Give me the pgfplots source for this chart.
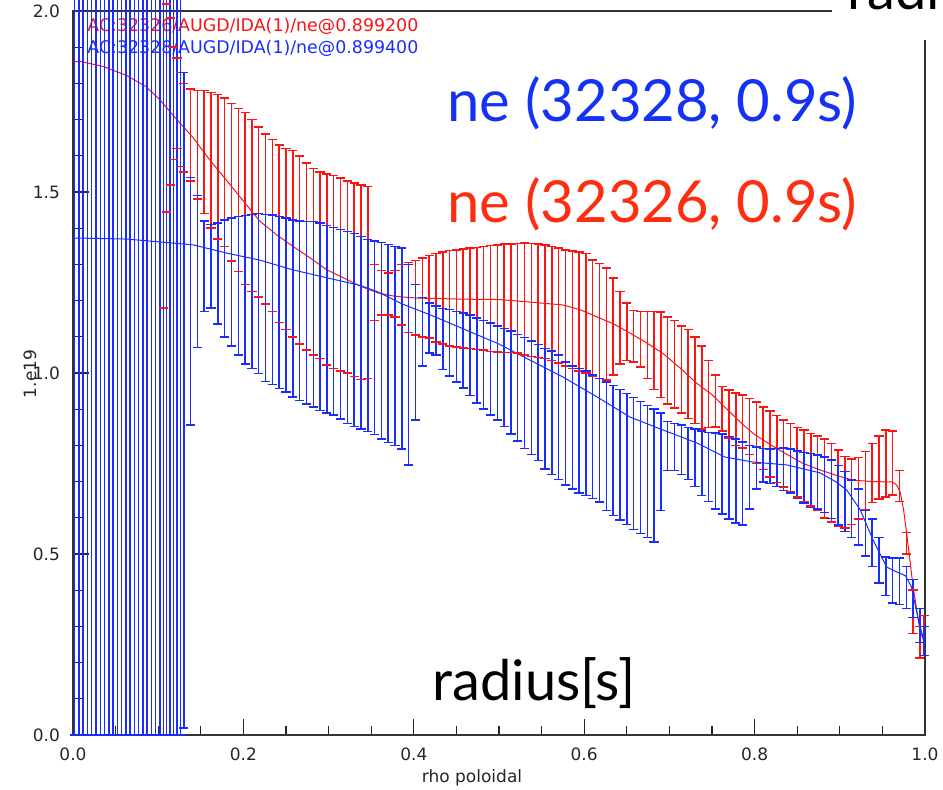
\documentclass[border=0pt]{standalone}
\usepackage{fontspec}
\setmainfont{DejaVu Sans}
\newfontfamily\latofont{Lato}
\usepackage{pgfplots}
\usepackage{pgfplotstable}
\pgfplotsset{compat=1.18}
\definecolor{idlred}{RGB}{250,20,20}
\definecolor{idlblue}{RGB}{25,45,255}
\definecolor{txtblue}{RGB}{20,50,245}
\definecolor{txtred}{RGB}{255,45,15}

\pgfplotstableread{
x rhi rlo bhi blo
0.002 2.5 0 2.5 0
0.007 2.5 0 2.5 0
0.012 2.5 0 2.5 0
0.017 2.5 0 2.5 0
0.022 2.5 0 2.5 0
0.027 2.5 0 2.5 0
0.032 2.5 0 2.5 0
0.037 2.5 0 2.5 0
0.042 2.5 0 2.5 0
0.047 2.5 0 2.5 0
0.052 2.5 0 2.5 0
0.057 2.5 0 2.5 0
0.062 2.5 0 2.5 0
0.067 2.5 0 2.5 0
0.072 2.5 0 2.5 0
0.077 2.5 0 2.5 0
0.082 2.5 0 2.5 0
0.087 2.5 0 2.5 0
0.092 2.5 0 2.5 0
0.097 2.5 0 2.5 0
0.102 2.5 0 2.5 0
0.106 2.5 1.18 2.5 0
0.110 2.02 1.445 2.5 0
0.114 1.98 1.52 2.5 0
0.118 1.90 1.59 2.5 0
0.122 1.87 1.62 2.5 0
0.126 1.83 1.57 2.5 0
0.130 1.80 1.555 1.83 0.02
0.138 1.785 1.53 1.54 0.856
0.146 1.78 1.48 1.49 1.07
0.154 1.78 1.44 1.42 1.17
0.162 1.775 1.40 1.41 1.18
0.170 1.77 1.37 1.415 1.135
0.178 1.76 1.35 1.422 1.10
0.186 1.745 1.31 1.428 1.075
0.194 1.73 1.28 1.432 1.05
0.202 1.72 1.245 1.435 1.025
0.210 1.70 1.225 1.438 1.012
0.218 1.68 1.21 1.44 0.998
0.226 1.66 1.19 1.438 0.977
0.234 1.645 1.17 1.436 0.968
0.242 1.63 1.14 1.432 0.957
0.250 1.62 1.12 1.428 0.947
0.258 1.615 1.10 1.423 0.934
0.266 1.60 1.08 1.42 0.924
0.274 1.58 1.063 1.419 0.915
0.282 1.565 1.05 1.418 0.906
0.290 1.555 1.04 1.415 0.896
0.298 1.55 1.022 1.408 0.89
0.306 1.545 1.012 1.402 0.884
0.314 1.538 1.005 1.397 0.873
0.322 1.53 1.0 1.391 0.86
0.330 1.525 0.99 1.385 0.852
0.338 1.52 0.982 1.377 0.846
0.346 1.515 0.985 1.369 0.839
0.354 1.30 1.145 1.364 0.83
0.362 1.283 1.16 1.36 0.818
0.370 1.276 1.16 1.355 0.808
0.378 1.283 1.155 1.35 0.80
0.386 1.30 1.133 1.345 0.79
0.394 1.305 1.112 1.30 0.746
0.402 1.311 1.105 1.245 0.87
0.410 1.318 1.10 1.208 1.02
0.418 1.325 1.097 1.193 1.055
0.426 1.33 1.085 1.185 1.05
0.434 1.334 1.08 1.178 1.01
0.442 1.338 1.075 1.175 0.992
0.450 1.34 1.072 1.17 0.975
0.458 1.343 1.069 1.166 0.958
0.466 1.345 1.067 1.16 0.938
0.474 1.347 1.065 1.152 0.917
0.482 1.349 1.063 1.145 0.90
0.490 1.352 1.06 1.138 0.884
0.498 1.354 1.058 1.13 0.87
0.506 1.356 1.057 1.123 0.852
0.514 1.357 1.056 1.116 0.832
0.522 1.358 1.055 1.106 0.812
0.530 1.359 1.05 1.098 0.792
0.538 1.358 1.046 1.088 0.775
0.546 1.356 1.043 1.079 0.758
0.554 1.354 1.04 1.068 0.735
0.562 1.35 1.034 1.061 0.719
0.570 1.345 1.027 1.05 0.706
0.578 1.34 1.02 1.03 0.69
0.586 1.337 1.012 1.02 0.68
0.594 1.334 1.006 1.012 0.669
0.602 1.33 1.0 1.005 0.661
0.610 1.312 0.992 0.995 0.653
0.618 1.303 0.985 0.985 0.644
0.626 1.29 0.98 0.975 0.62
0.634 1.262 0.995 0.966 0.607
0.642 1.225 1.025 0.954 0.594
0.650 1.193 1.035 0.944 0.582
0.658 1.172 1.03 0.933 0.568
0.666 1.17 1.017 0.921 0.556
0.674 1.17 0.985 0.91 0.545
0.682 1.17 0.955 0.90 0.533
0.690 1.168 0.932 0.89 0.62
0.698 1.155 0.915 0.866 0.73
0.706 1.145 0.903 0.86 0.73
0.714 1.13 0.89 0.856 0.72
0.722 1.12 0.875 0.85 0.706
0.730 1.10 0.86 0.845 0.686
0.738 1.074 0.845 0.84 0.662
0.746 1.035 0.85 0.836 0.645
0.754 0.995 0.851 0.834 0.625
0.762 0.963 0.84 0.831 0.61
0.770 0.953 0.82 0.824 0.597
0.778 0.945 0.80 0.818 0.585
0.786 0.939 0.793 0.81 0.58
0.794 0.93 0.775 0.80 0.625
0.802 0.92 0.75 0.795 0.68
0.810 0.906 0.733 0.792 0.699
0.818 0.895 0.713 0.79 0.695
0.826 0.883 0.698 0.791 0.686
0.834 0.87 0.685 0.793 0.676
0.842 0.86 0.672 0.79 0.668
0.850 0.85 0.657 0.785 0.654
0.858 0.842 0.644 0.781 0.641
0.866 0.833 0.632 0.777 0.629
0.874 0.826 0.62 0.774 0.624
0.882 0.818 0.60 0.768 0.615
0.890 0.805 0.589 0.76 0.598
0.898 0.787 0.578 0.745 0.58
0.906 0.77 0.572 0.728 0.562
0.914 0.762 0.582 0.705 0.545
0.922 0.766 0.597 0.68 0.525
0.930 0.783 0.623 0.62 0.495
0.938 0.805 0.642 0.597 0.465
0.946 0.826 0.652 0.545 0.42
0.954 0.842 0.658 0.492 0.385
0.962 0.84 0.663 0.489 0.365
0.970 0.73 0.645 0.489 0.361
0.978 0.56 0.50 0.465 0.35
0.986 0.40 0.28 0.43 0.325
0.994 0.30 0.213 0.35 0.255
0.999 0.33 0.22 0.30 0.22
}\bars

\pgfplotstableread{
x y
0 1.86
0.01 1.86
0.035 1.847
0.063 1.822
0.085 1.792
0.102 1.755
0.12 1.705
0.141 1.65
0.16 1.59
0.181 1.53
0.2 1.475
0.219 1.42
0.24 1.38
0.258 1.35
0.28 1.315
0.298 1.285
0.32 1.26
0.337 1.24
0.357 1.222
0.375 1.213
0.387 1.21
0.404 1.207
0.458 1.204
0.5 1.203
0.536 1.196
0.575 1.188
0.595 1.175
0.615 1.155
0.635 1.135
0.654 1.11
0.672 1.085
0.692 1.055
0.712 1.015
0.732 0.972
0.75 0.94
0.765 0.906
0.785 0.86
0.80 0.83
0.82 0.80
0.838 0.775
0.857 0.75
0.877 0.732
0.895 0.718
0.915 0.704
0.94 0.70
0.962 0.699
0.967 0.69
0.971 0.67
0.975 0.62
0.979 0.547
0.986 0.41
0.994 0.29
1.0 0.25
}\redc

\pgfplotstableread{
x y
0 1.373
0.063 1.37
0.102 1.362
0.141 1.354
0.181 1.331
0.219 1.312
0.258 1.285
0.298 1.263
0.337 1.242
0.357 1.225
0.387 1.19
0.42 1.16
0.45 1.13
0.5 1.08
0.536 1.036
0.575 0.989
0.615 0.934
0.654 0.878
0.692 0.843
0.732 0.807
0.765 0.768
0.798 0.754
0.838 0.746
0.877 0.724
0.895 0.70
0.908 0.677
0.924 0.622
0.939 0.539
0.955 0.464
0.967 0.45
0.977 0.44
0.984 0.41
0.993 0.31
1.0 0.25
}\bluec

\begin{document}
\begin{tikzpicture}[x=1pt,y=1pt]
\useasboundingbox (0,0) rectangle (471.5,394.5);
% IDL annotations (under the data)
\node[anchor=base west, inner sep=0, text=idlred, font=\fontsize{8.7}{10}\selectfont] at (43.5,378.5) {AC:32326/AUGD/IDA(1)/ne@0.899200};
\node[anchor=base west, inner sep=0, text=idlblue, font=\fontsize{8.7}{10}\selectfont] at (43.5,367.5) {AC:32328/AUGD/IDA(1)/ne@0.899400};
\begin{axis}[
  at={(36.5pt,27pt)}, anchor=south west,
  scale only axis, width=426pt, height=362pt,
  xmin=0, xmax=1, ymin=0, ymax=2, clip=false,
  xtick={0,0.2,0.4,0.6,0.8,1}, ytick={0,0.5,1,1.5,2},
  minor x tick num=3, minor y tick num=4,
  tick align=inside, tick pos=left,
  major tick length=8pt, minor tick length=4.5pt,
  tick style={black!85, line width=0.6pt},
  axis line style={black!80, line width=0.7pt},
  ticklabel style={font=\fontsize{8.5}{10}\selectfont, black!85},
  yticklabel style={xshift=-3pt},
  xticklabel style={yshift=-3pt},
  /pgf/number format/.cd, fixed, fixed zerofill, precision=1, assume math mode=true
]
% red series: bars, caps, profile
\addplot[idlred, draw=none, mark=none, forget plot,
  error bars/.cd, y dir=both, y explicit, error mark=none,
  error bar style={color=idlred, line width=0.75pt}]
  table[x=x, y=rlo, y error plus expr=\thisrow{rhi}-\thisrow{rlo}, y error minus expr=0] {\bars};
\addplot[only marks, mark=-, mark size=2.3pt, mark options={draw=idlred, line width=0.75pt}, forget plot]
  table[x=x, y=rhi] {\bars};
\addplot[only marks, mark=-, mark size=2.3pt, mark options={draw=idlred, line width=0.75pt}, forget plot]
  table[x=x, y=rlo] {\bars};
\addplot[idlred, line width=0.5pt, mark=none] table {\redc};
% blue series: bars, caps, profile
\addplot[idlblue, draw=none, mark=none, forget plot,
  error bars/.cd, y dir=both, y explicit, error mark=none,
  error bar style={color=idlblue, line width=0.75pt}]
  table[x=x, y=blo, y error plus expr=\thisrow{bhi}-\thisrow{blo}, y error minus expr=0] {\bars};
\addplot[only marks, mark=-, mark size=2.3pt, mark options={draw=idlblue, line width=0.75pt}, forget plot]
  table[x=x, y=bhi] {\bars};
\addplot[only marks, mark=-, mark size=2.3pt, mark options={draw=idlblue, line width=0.75pt}, forget plot]
  table[x=x, y=blo] {\bars};
\addplot[idlblue, line width=0.5pt, mark=none] table {\bluec};
\end{axis}
% covered corner of the frame
\fill[white] (416,374.5) rectangle (472,395);
\node[overlay, anchor=base west, inner sep=0, font=\latofont\fontsize{28}{30}\selectfont] at (423.5,389.5) {radius};
% slide overlay texts
\node[anchor=base west, inner sep=0, text=txtblue, font=\latofont\fontsize{29}{32}\selectfont] at (223.5,333.5) {ne (32328, 0.9s)};
\node[anchor=base west, inner sep=0, text=txtred, font=\latofont\fontsize{29}{32}\selectfont] at (223.5,283.5) {ne (32326, 0.9s)};
\node[anchor=base west, inner sep=0, font=\latofont\fontsize{28}{30}\selectfont] at (216,44.5) {radius[s]};
% axis titles
\node[anchor=base, inner sep=0, black!85, font=\fontsize{8.5}{10}\selectfont] at (236,3.5) {rho poloidal};
\node[rotate=90, inner sep=0, black!85, font=\fontsize{8.5}{10}\selectfont] at (15,207.5) {1.e19};
\end{tikzpicture}
\end{document}
